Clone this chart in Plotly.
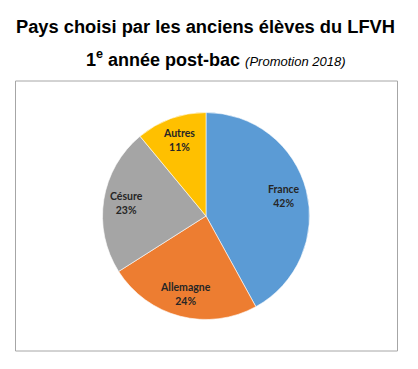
import math
import plotly.graph_objects as go

categories = ["France", "Allemagne", "Césure", "Autres"]
values = [42, 24, 23, 11]
colors = ["#5B9BD5", "#ED7D31", "#A5A5A5", "#FFC000"]

W, H = 418, 369
CX, CY, R = 206.0, 216.0, 103.5   # pie centre / radius in pixels
LABEL_R = 0.78                    # label radius fraction (Excel-like)

fig = go.Figure(go.Pie(
    labels=categories,
    values=values,
    sort=False,
    direction="clockwise",
    rotation=0,
    marker=dict(colors=colors, line=dict(color="#FFFFFF", width=0.6)),
    textinfo="none",
    showlegend=False,
    hoverinfo="label+percent",
    domain=dict(x=[(CX - R) / W, (CX + R) / W], y=[1 - (CY + R) / H, 1 - (CY - R) / H]),
))

# data labels placed along each slice's mid-angle
total = sum(values)
annotations = []
acc = 0.0
for lab, v in zip(categories, values):
    mid = (acc + v / 2) / total * 2 * math.pi
    acc += v
    px = CX + LABEL_R * R * math.sin(mid)
    py = CY - LABEL_R * R * math.cos(mid)
    pct = round(100 * v / total)
    annotations.append(dict(
        text=f"<b>{lab}</b><br><b>{pct}%</b>",
        xref="paper", yref="paper", x=px / W, y=1 - py / H,
        xanchor="center", yanchor="middle", showarrow=False,
        font=dict(family="Lato, sans-serif", size=10.5, color="#262626"),
    ))

annotations += [
    dict(text="<b>Pays choisi par les anciens élèves du LFVH</b>",
         xref="paper", yref="paper", x=205.5 / W, y=1 - 27 / H,
         xanchor="center", yanchor="middle", showarrow=False,
         font=dict(family="Liberation Sans, Arial, sans-serif", size=18.3, color="#000000")),
    dict(text="<b>1<sup>e</sup> année post-bac</b> <i><span style='font-size:13px'>(Promotion 2018)</span></i>",
         xref="paper", yref="paper", x=216.5 / W, y=1 - 59 / H,
         xanchor="center", yanchor="middle", showarrow=False,
         font=dict(family="Liberation Sans, Arial, sans-serif", size=18, color="#000000")),
]

fig.update_layout(
    width=W, height=H,
    margin=dict(l=0, r=0, t=0, b=0),
    paper_bgcolor="white",
    plot_bgcolor="white",
    shapes=[dict(type="rect", xref="paper", yref="paper",
                 x0=15.5 / W, x1=397.5 / W, y0=1 - 351 / H, y1=1 - 81 / H,
                 line=dict(color="#A6A6A6", width=1), fillcolor="rgba(0,0,0,0)")],
    annotations=annotations,
)

fig.write_html("out.html", config={"displayModeBar": False},
               post_script="document.body.style.margin='0px';document.body.style.overflow='hidden';")
